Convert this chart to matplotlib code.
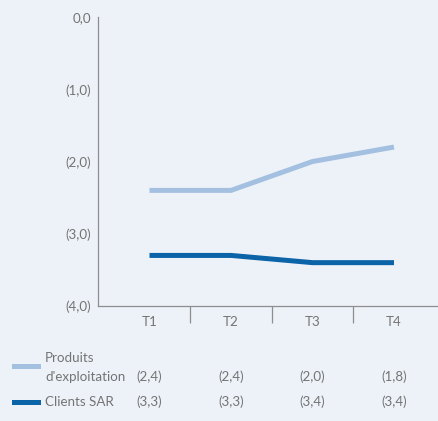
import matplotlib
matplotlib.use("Agg")
import matplotlib.pyplot as plt
from matplotlib.lines import Line2D
import matplotlib.transforms as mtransforms

# quarterly figures (negative values, shown in parentheses)
quarters = ["T1", "T2", "T3", "T4"]
produits = [-2.4, -2.4, -2.0, -1.8]
clients_sar = [-3.3, -3.3, -3.4, -3.4]
series_names = [["Produits", "d'exploitation"], ["Clients SAR"]]
y_ticks = [0.0, -1.0, -2.0, -3.0, -4.0]

bg = "#edf2f9"
light_blue = "#a4c0e1"
dark_blue = "#0b63a8"
grey_text = "#747474"
axis_grey = "#8e8e8e"
fs = 9.6

plt.rcParams["font.family"] = ["Lato", "DejaVu Sans"]


def paren(v):
    s = f"{abs(v):.1f}".replace(".", ",")
    return s if v == 0 else f"({s})"


fig = plt.figure(figsize=(4.39, 4.21), dpi=100, facecolor=bg)
W, H = 439, 421
ax = fig.add_axes([98 / W, 1 - 306 / H, 1 - 98 / W, (306 - 17) / H])
ax.set_facecolor(bg)

x = list(range(len(quarters)))
ax.plot(x, produits, color=light_blue, lw=3.6, solid_capstyle="butt")
ax.plot(x, clients_sar, color=dark_blue, lw=3.6, solid_capstyle="butt")

unit = 81.5
x0 = 149.5
ax.set_xlim((98 - x0) / unit, (W - x0) / unit)
ax.set_ylim(-4, 0)

ax.set_yticks(y_ticks)
ax.set_yticklabels([paren(v) for v in y_ticks])
ax.set_xticks(x)
ax.set_xticklabels(quarters)
ax.set_xticks([i + 0.5 for i in x[:-1]], minor=True)

ax.tick_params(axis="y", length=0, pad=5, labelsize=fs, labelcolor=grey_text)
ax.tick_params(axis="x", which="major", length=0, pad=7, labelsize=fs,
               labelcolor=grey_text)
ax.tick_params(axis="x", which="minor", length=12, width=0.9, color=axis_grey,
               direction="out")

for side in ["top", "right"]:
    ax.spines[side].set_visible(False)
for side in ["left", "bottom"]:
    ax.spines[side].set_color(axis_grey)
    ax.spines[side].set_linewidth(0.9)

# table legend under the chart
trans = mtransforms.blended_transform_factory(ax.transData, fig.transFigure)
rows = [(produits, light_blue, 1 - 377 / H, 1 - 366 / H),
        (clients_sar, dark_blue, 1 - 402 / H, 1 - 402 / H)]
for name, (vals, col, ty, sy) in zip(series_names, rows):
    fig.add_artist(Line2D([14 / W, 38 / W], [sy, sy], color=col, lw=3.6,
                          transform=fig.transFigure))
    if len(name) == 2:
        fig.text(45 / W, 1 - 358 / H, name[0], ha="left", va="center",
                 fontsize=fs, color=grey_text)
    fig.text(45 / W, ty, name[-1], ha="left", va="center",
             fontsize=fs, color=grey_text)
    for xi, v in zip(x, vals):
        ax.text(xi, ty, paren(v), ha="center", va="center", fontsize=fs,
                color=grey_text, transform=trans)

fig.savefig("out.png", dpi=100, facecolor=bg)
